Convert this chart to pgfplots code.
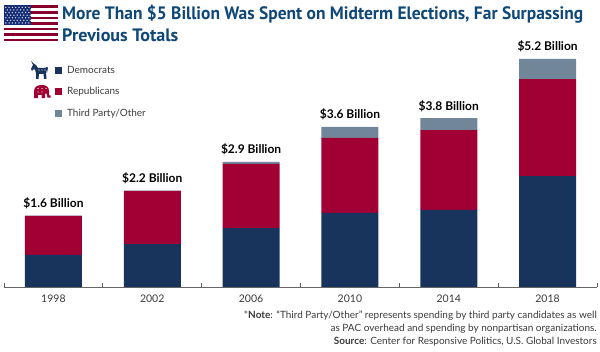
\documentclass[border=0pt]{standalone}
\usepackage{pgfplots}
\pgfplotsset{compat=1.18}
\usepackage{fontspec}
\usepackage{graphicx}
\setmainfont{Lato}
\newfontfamily\ttlfont{PT Sans}
\definecolor{dem}{HTML}{18335C}
\definecolor{rep}{HTML}{A00034}
\definecolor{oth}{HTML}{728699}
\definecolor{ttl}{HTML}{0F4778}
\definecolor{txt}{HTML}{3A3A3A}
\begin{document}
\begin{tikzpicture}[x=1pt,y=1pt]
\path[use as bounding box] (0,0) rectangle (600,352);
% flag
\begin{scope}[shift={(4,310.5)}]
\fill[white] (0,0) rectangle (54,36);
\foreach \i in {0,2,4,6,8,10,12}{\fill[rep!85!black] (0,{\i*36/13}) rectangle (54,{(\i+1)*36/13});}
\fill[dem!85!blue] (0,{6*36/13}) rectangle (27,36);
\foreach \r in {0,...,6}{\foreach \c in {0,...,7}{\fill[white!85!dem] ({1.8+\c*3.3+mod(\r,2)*1.5},{18.5+\r*2.6}) circle (.75);}}
\end{scope}
% donkey
\begin{scope}[shift={(31,291)},y=-1pt]
\fill[dem] (0,0) -- (3,3) -- (5,4) -- (7,7) -- (14,7) -- (16,6) -- (17,7) -- (16,12) -- (15.5,9) -- (15,10) -- (15.5,18) -- (13,18) -- (12.5,13) -- (8,13) -- (7.5,18) -- (5,18) -- (5,12) -- (4,9) -- (3,8) -- (1,10) -- (0,8) -- (2,4) -- cycle;
\foreach \p in {(8,9),(11,9),(14,9)}{\fill[white] \p circle (.6);}
\end{scope}
% elephant
\begin{scope}[shift={(34,267)},y=-.87pt]
\fill[rep] (0,15) -- (0,7) .. controls (0,1) and (5,0) .. (8,0) .. controls (12,0) and (15,2) .. (15,7) -- (15,12) -- (16.5,12) -- (16.5,14.5) -- (13.5,14.5) -- (12.5,10) -- (11,10) -- (11,15) -- (7.5,15) -- (7.5,11.5) -- (4,11.5) -- (4,15) -- cycle;
\foreach \p in {(4,4),(8,4),(12,4),(4,8),(8,8)}{\fill[white] \p circle (.7);}
\end{scope}
\begin{axis}[
  at={(4pt,65pt)},anchor=south west,
  scale only axis,width=593pt,height=240pt,
  xmin=-0.5,xmax=5.5,ymin=0,ymax=5.473,
  axis y line=none,axis x line*=bottom,axis line style={color=black!60,line width=.9pt,-},
  clip=false,
  ybar stacked,bar width=57pt,
  xtick={0,...,5},xticklabels={1998,2002,2006,2010,2014,2018},
  major tick length=0pt,
  minor xtick={-0.5,0.5,1.5,2.5,3.5,4.5,5.5},
  minor tick length=3.5pt,
  every minor tick/.style={draw=black!65,line width=.7pt},
  x tick label style={font=\fontsize{10.5}{12}\selectfont,text=txt,yshift=-4.5pt},
  legend style={at={(axis cs:0.01,5.07)},anchor=north west,draw=none,fill=none,font=\fontsize{10}{12}\selectfont\color{txt},row sep=10.7pt,inner sep=0pt,nodes={inner sep=1pt},/tikz/every odd column/.append style={column sep=4.5pt}},
  legend cell align=left,
  legend image code/.code={\fill[#1,draw=none] (0pt,-3.5pt) rectangle (7pt,3.5pt);},
]
\addplot[draw=none,fill=dem] coordinates {(0,.73)(1,.98)(2,1.345)(3,1.69)(4,1.76)(5,2.53)};
\addplot[draw=none,fill=rep] coordinates {(0,.89)(1,1.21)(2,1.46)(3,1.71)(4,1.82)(5,2.21)};
\addplot[draw=none,fill=oth] coordinates {(0,.01)(1,.01)(2,.05)(3,.25)(4,.27)(5,.46)};
\legend{Democrats,Republicans,Third Party/Other}
\node[font=\fontsize{12}{14}\selectfont\bfseries,anchor=base,yshift=8pt] at (axis cs:0,1.63) {\$1.6 Billion};
\node[font=\fontsize{12}{14}\selectfont\bfseries,anchor=base,yshift=8pt] at (axis cs:1,2.20) {\$2.2 Billion};
\node[font=\fontsize{12}{14}\selectfont\bfseries,anchor=base,yshift=8pt] at (axis cs:2,2.855) {\$2.9 Billion};
\node[font=\fontsize{12}{14}\selectfont\bfseries,anchor=base,yshift=8pt] at (axis cs:3,3.65) {\$3.6 Billion};
\node[font=\fontsize{12}{14}\selectfont\bfseries,anchor=base,yshift=8pt] at (axis cs:4,3.85) {\$3.8 Billion};
\node[font=\fontsize{12}{14}\selectfont\bfseries,anchor=base,yshift=8pt] at (axis cs:5,5.2) {\$5.2 Billion};
\end{axis}
\node[anchor=base west,inner sep=0pt,font=\fontsize{18}{20}\selectfont\ttlfont\bfseries,text=ttl] at (62,332) {\resizebox{521pt}{\height}{More Than \$5 Billion Was Spent on Midterm Elections, Far Surpassing}};
\node[anchor=base west,inner sep=0pt,font=\fontsize{18}{20}\selectfont\ttlfont\bfseries,text=ttl] at (62,310.5) {\resizebox{116pt}{\height}{Previous Totals}};
\begin{scope}[every node/.style={anchor=base east,font=\fontsize{10}{12}\selectfont,text=txt,inner sep=0pt}]
\node at (597,33) {*\textbf{Note}: “Third Party/Other” represents spending by third party candidates as well};
\node at (597,20) {as PAC overhead and spending by nonpartisan organizations.};
\node at (597,7.5) {\textbf{Source}: Center for Responsive Politics, U.S. Global Investors};
\end{scope}
\end{tikzpicture}
\end{document}
